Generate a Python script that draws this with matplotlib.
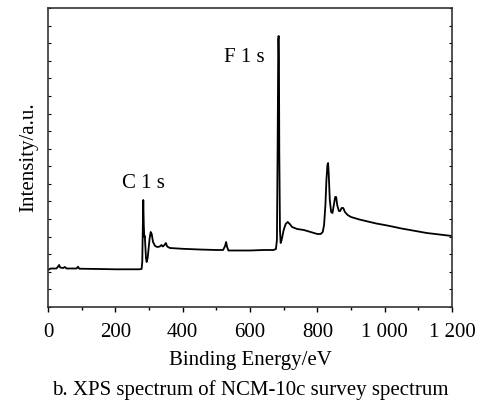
import numpy as np
import matplotlib
matplotlib.use("Agg")
import matplotlib.pyplot as plt
from matplotlib.ticker import MultipleLocator, FixedLocator

# Binding energy (eV) and intensity (a.u.)
energy = [0, 8, 25, 30, 33, 36, 45, 50, 55, 85, 89, 93, 150, 200, 270, 278,
          280, 281.5, 283, 284.5, 286, 287.5, 289, 291, 293, 296, 299, 302, 305,
          308, 312, 318, 325, 332, 337, 341, 346, 350, 354, 362, 400, 450, 500,
          520, 526, 529, 532, 536, 560, 600, 640, 670, 677, 680, 682, 684, 685,
          686, 687, 689, 691, 694, 700, 706, 712, 718, 725, 740, 760, 780, 800,
          810, 816, 820, 824, 827, 830, 832, 834, 837, 841, 845, 849, 853, 856,
          859, 864, 868, 872, 877, 882, 890, 900, 925, 950, 975, 1000, 1025,
          1050, 1075, 1100, 1125, 1150, 1175, 1200]
intensity = [37, 38.5, 38.5, 40.5, 42, 39.5, 39, 40, 38.5, 38.5, 40.3, 38.3,
             38, 37.7, 37.7, 38,
             45, 77, 107, 82, 70, 71, 62, 49, 45, 49, 59, 69, 75,
             73, 65, 61, 60, 60.5, 62, 60.5, 62, 64, 60.5, 59, 58.2, 57.5, 57,
             57, 61, 65, 60, 56.5, 56.5, 56.5, 57, 57, 58, 67, 157, 267, 271,
             247, 157, 77, 64, 67, 77, 83, 85, 83, 80, 78, 77, 75, 73,
             73, 75, 82, 102, 127, 142, 144, 132, 107, 95, 94, 102, 110, 110,
             102, 96, 96, 99, 99, 95, 92, 90, 87.5, 85.5, 83.5, 82, 80.3,
             78.5, 77, 75.5, 74, 73, 72, 71]

xticks = [0, 200, 400, 600, 800, 1000, 1200]
xtick_labels = ["0", "200", "400", "600", "800", "1 000", "1 200"]

plt.rcParams['font.family'] = ['Liberation Serif', 'DejaVu Serif']

fig = plt.figure(figsize=(4.81, 4.03), dpi=100)
ax = fig.add_axes([48/481, 1 - 307/403, (452-48)/481, (307-8)/403])

ax.plot(energy, intensity, color='black', lw=1.3)

ax.set_xlim(0, 1200)
ax.set_ylim(0, 299)
ax.set_xticks(xticks)
ax.set_xticklabels(xtick_labels, fontsize=15)
ax.xaxis.set_minor_locator(MultipleLocator(100))
ax.tick_params(axis='x', which='major', direction='out', length=3.5, width=1, pad=8)
ax.tick_params(axis='x', which='minor', direction='out', length=2, width=1)
ax.yaxis.set_major_locator(FixedLocator(np.linspace(0, 299, 18)))
ax.tick_params(axis='y', which='major', direction='in', length=2, width=0.8,
               left=True, right=True, labelleft=False)
for s in ax.spines.values():
    s.set_linewidth(1.2)
    s.set_color('#333333')

ax.text(283, 123, "C 1 s", fontsize=15, ha='center', va='center')
ax.text(584, 249, "F 1 s", fontsize=15, ha='center', va='center')

fig.text(29/481, 1 - 157/403, "Intensity/a.u.", rotation=90, fontsize=15,
         ha='center', va='center')
fig.text(250/481, 1 - 360/403, "Binding Energy/eV", fontsize=15,
         ha='center', va='center')
fig.text(250/481, 1 - 390/403, "b. XPS spectrum of NCM-10c survey spectrum",
         fontsize=15, ha='center', va='center')

fig.savefig("out.png", dpi=100)
